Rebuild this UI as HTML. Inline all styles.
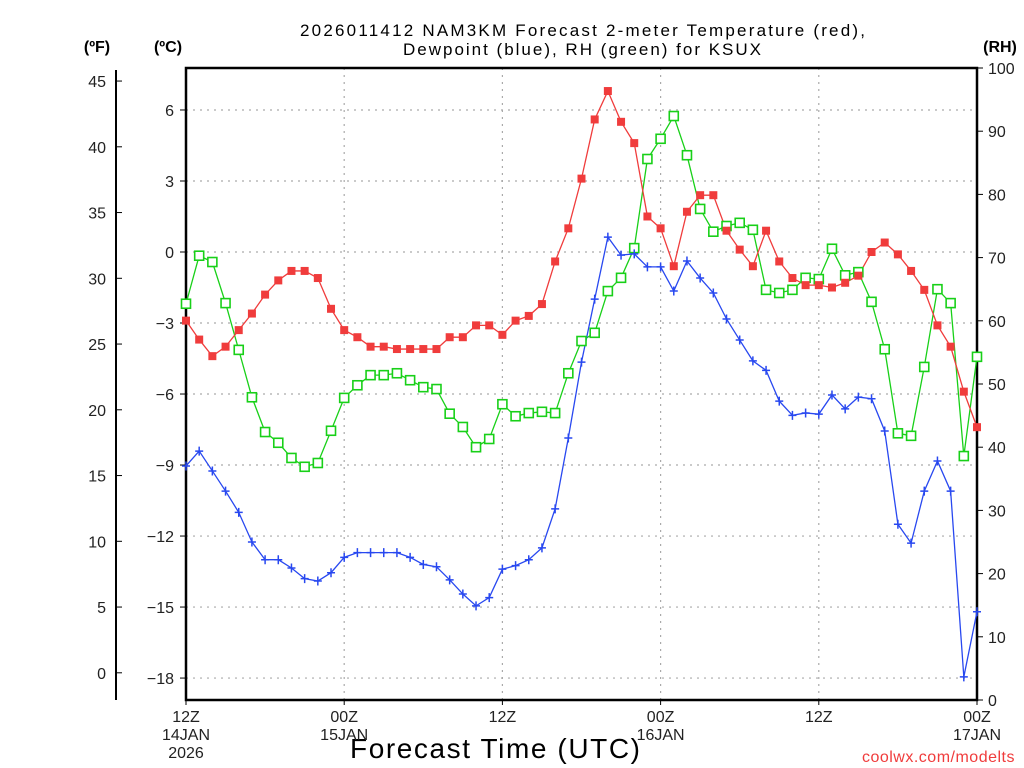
<!DOCTYPE html>
<html><head><meta charset="utf-8"><style>
html,body{margin:0;padding:0;background:#fff;}
svg{display:block;font-family:"Liberation Sans",sans-serif;}
</style></head><body>
<svg id="chart" width="1024" height="768" viewBox="0 0 1024 768" xmlns="http://www.w3.org/2000/svg">
<text x="300" y="36" font-size="17" textLength="565" lengthAdjust="spacing">2026011412 NAM3KM Forecast 2-meter Temperature (red),</text>
<text x="403" y="55" font-size="17" textLength="358" lengthAdjust="spacing">Dewpoint (blue), RH (green) for KSUX</text>
<text x="97" y="52" font-size="16" font-weight="bold" text-anchor="middle">(ºF)</text>
<text x="168" y="52" font-size="16" font-weight="bold" text-anchor="middle">(ºC)</text>
<text x="1000" y="52" font-size="16" font-weight="bold" text-anchor="middle">(RH)</text>
<text x="350" y="758" font-size="28" textLength="290" lengthAdjust="spacing">Forecast Time (UTC)</text>
<text x="1015" y="762" font-size="16" fill="#f03c3c" text-anchor="end" letter-spacing="0.5">coolwx.com/modelts</text>
<g id="grid"></g><g id="axes"></g><g id="series"></g>
</svg>
<script>
const tempC=[-2.9,-3.7,-4.4,-4.0,-3.3,-2.6,-1.8,-1.2,-0.8,-0.8,-1.1,-2.4,-3.3,-3.6,-4.0,-4.0,-4.1,-4.1,-4.1,-4.1,-3.6,-3.6,-3.1,-3.1,-3.5,-2.9,-2.7,-2.2,-0.4,1.0,3.1,5.6,6.8,5.5,4.6,1.5,1.0,-0.6,1.7,2.4,2.4,0.9,0.1,-0.6,0.9,-0.4,-1.1,-1.4,-1.4,-1.5,-1.3,-1.0,0.0,0.4,-0.1,-0.8,-1.6,-3.1,-4.0,-5.9,-7.4];
const dewC=[-9.04,-8.41,-9.25,-10.1,-11.0,-12.25,-13.0,-13.0,-13.35,-13.8,-13.9,-13.55,-12.9,-12.7,-12.7,-12.7,-12.7,-12.9,-13.2,-13.3,-13.85,-14.45,-14.95,-14.6,-13.4,-13.25,-13.0,-12.5,-10.85,-7.86,-4.65,-1.99,0.63,-0.13,-0.08,-0.63,-0.63,-1.65,-0.38,-1.1,-1.73,-2.83,-3.72,-4.6,-5.0,-6.3,-6.9,-6.8,-6.85,-6.04,-6.63,-6.13,-6.2,-7.56,-11.5,-12.3,-10.1,-8.83,-10.1,-17.95,-15.2];
const rhPct=[62.7,70.3,69.3,62.8,55.4,47.9,42.4,40.7,38.3,36.9,37.5,42.6,47.8,49.8,51.4,51.4,51.7,50.6,49.5,49.2,45.3,43.2,40.0,41.3,46.8,44.9,45.4,45.6,45.4,51.7,56.8,58.1,64.7,66.8,71.5,85.6,88.8,92.4,86.2,77.7,74.1,75.0,75.5,74.4,64.9,64.4,64.9,66.8,66.6,71.4,67.2,67.7,63.0,55.5,42.2,41.8,52.7,65.0,62.8,38.6,54.3];
const cTicks=[-18,-15,-12,-9,-6,-3,0,3,6];
const fTicks=[0,5,10,15,20,25,30,35,40,45];
const rhTicks=[0,10,20,30,40,50,60,70,80,90,100];
const xTickHours=[0,12,24,36,48,60];
const xTickLabels=[["12Z","14JAN","2026"],["00Z","15JAN"],["12Z"],["00Z","16JAN"],["12Z"],["00Z","17JAN"]];

const L=186,R=977,T=68,B=700,HOURS=60;
const xs=h=>L+(R-L)*h/HOURS;
const yc=c=>252-c*23.67;
const yf=f=>yc((f-32)*5/9);
const yrh=r=>B-(B-T)*r/100;
const NS="http://www.w3.org/2000/svg";
function mk(tag,attrs,parent,txt){const e=document.createElementNS(NS,tag);for(const k in attrs)e.setAttribute(k,attrs[k]);if(txt!==undefined)e.textContent=txt;parent.appendChild(e);return e;}
const grid=document.getElementById('grid'),axes=document.getElementById('axes'),ser=document.getElementById('series');

cTicks.forEach(c=>{
  const g=mk('line',{x1:L,x2:R,y1:yc(c),y2:yc(c),stroke:'#aaa','stroke-dasharray':'2,5','stroke-width':1.2},grid);
  
  
  mk('line',{x1:L-6,x2:L,y1:yc(c),y2:yc(c),stroke:'#000'},axes);
  const t=mk('text',{x:L-12,y:yc(c)+6,'font-size':16,'text-anchor':'end',fill:'#222'},axes,c<0?'\u2212'+Math.abs(c):String(c));
  
  
});
xTickHours.forEach((h,i)=>{
  if(h>0&&h<HOURS){
    const g=mk('line',{x1:xs(h),x2:xs(h),y1:T,y2:B,stroke:'#aaa','stroke-dasharray':'2,5','stroke-width':1.2},grid);
    
    
  }
  mk('line',{x1:xs(h),x2:xs(h),y1:B,y2:B+5,stroke:'#000'},axes);
  xTickLabels[i].forEach((s,j)=>{
    const t=mk('text',{x:xs(h),y:722+j*18,'font-size':16,'text-anchor':'middle',fill:'#222'},axes,s);
    
    
  });
});
mk('line',{x1:116,x2:116,y1:70,y2:B,stroke:'#000','stroke-width':2},axes);
fTicks.forEach(f=>{
  mk('line',{x1:116,x2:122,y1:yf(f),y2:yf(f),stroke:'#000'},axes);
  const t=mk('text',{x:106,y:yf(f)+6,'font-size':16,'text-anchor':'end',fill:'#222'},axes,String(f));
  
  
});
rhTicks.forEach(r=>{
  mk('line',{x1:R,x2:R+6,y1:yrh(r),y2:yrh(r),stroke:'#000'},axes);
  const t=mk('text',{x:988,y:yrh(r)+6,'font-size':16,'text-anchor':'start',fill:'#222'},axes,String(r));
  
  
});
const frame=mk('rect',{x:L,y:T,width:R-L,height:B-T,fill:'none',stroke:'#000','stroke-width':2.5},axes);



function line(vals,yfn,color,name){
  const p=mk('polyline',{points:vals.map((v,i)=>xs(i)+','+yfn(v)).join(' '),fill:'none',stroke:color,'stroke-width':1.3},ser);
  
  
}
line(rhPct,yrh,'#18d018','rh-line');
line(tempC,yc,'#f03c3c','temperature-line');
line(dewC,yc,'#2848f0','dewpoint-line');
rhPct.forEach((v,i)=>{
  const m=mk('rect',{x:xs(i)-4.5,y:yrh(v)-4.5,width:9,height:9,fill:'#fff',stroke:'#18d018','stroke-width':1.6},ser);
  
  
});
tempC.forEach((v,i)=>{
  const m=mk('rect',{x:xs(i)-4,y:yc(v)-4,width:8,height:8,fill:'#f03c3c'},ser);
  
  
});
dewC.forEach((v,i)=>{
  const x=xs(i),y=yc(v);
  const m=mk('path',{d:`M${x-4},${y}H${x+4}M${x},${y-4.5}V${y+4.5}`,stroke:'#2848f0','stroke-width':1.5,fill:'none'},ser);
  
  
});
</script>
</body></html>
